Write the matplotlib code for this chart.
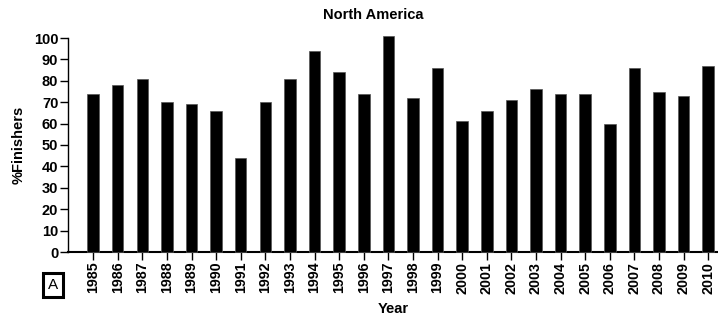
import matplotlib
matplotlib.use('Agg')
import matplotlib.pyplot as plt
import numpy as np

# Percent of finishers per year (North America)
years = [str(y) for y in range(1985, 2011)]
finishers = [74, 78, 81, 70, 69, 66, 44, 70, 81, 94, 84, 74, 101, 72, 86,
             61, 66, 71, 76, 74, 74, 60, 86, 75, 73, 87]
y_ticks = list(range(0, 101, 10))

plt.rcParams['font.family'] = ['Liberation Sans', 'DejaVu Sans']

fig = plt.figure(figsize=(7.18, 3.19), dpi=100, facecolor='white')
ax = fig.add_axes([68 / 718, 1 - 252 / 319, 650 / 718, 214 / 319])

x = np.arange(len(years))
ax.bar(x, finishers, width=0.47, color='black', edgecolor='#555555',
       linewidth=0.5, clip_on=False, zorder=3)

ax.set_xlim(-1.02, len(years) - 0.6)
ax.set_ylim(0, 100)
ax.set_yticks(y_ticks)
ax.set_yticklabels([str(t) for t in y_ticks], fontsize=10.5, fontweight='bold')
ax.set_xticks(x)
ax.set_xticklabels(years, rotation=90, fontsize=10.3, fontweight='bold')

for side in ['top', 'right']:
    ax.spines[side].set_visible(False)
ax.spines['left'].set_linewidth(1.0)
ax.spines['bottom'].set_linewidth(1.5)
ax.tick_params(axis='both', direction='out', length=6, width=1.0, pad=1)

ax.set_ylabel('%Finishers', fontsize=10.5, fontweight='bold', labelpad=6)
ax.set_xlabel('Year', fontsize=10.5, fontweight='bold', labelpad=6)

fig.text(373 / 718, 1 - 15 / 319, 'North America', ha='center', va='center',
         fontsize=10.5, fontweight='bold')

fig.text(53 / 718, 1 - 285 / 319, 'A', ha='center', va='center', fontsize=11,
         bbox=dict(boxstyle='square,pad=0.35', facecolor='white',
                   edgecolor='black', linewidth=2.2))

fig.savefig('out.png', dpi=100, facecolor='white')
